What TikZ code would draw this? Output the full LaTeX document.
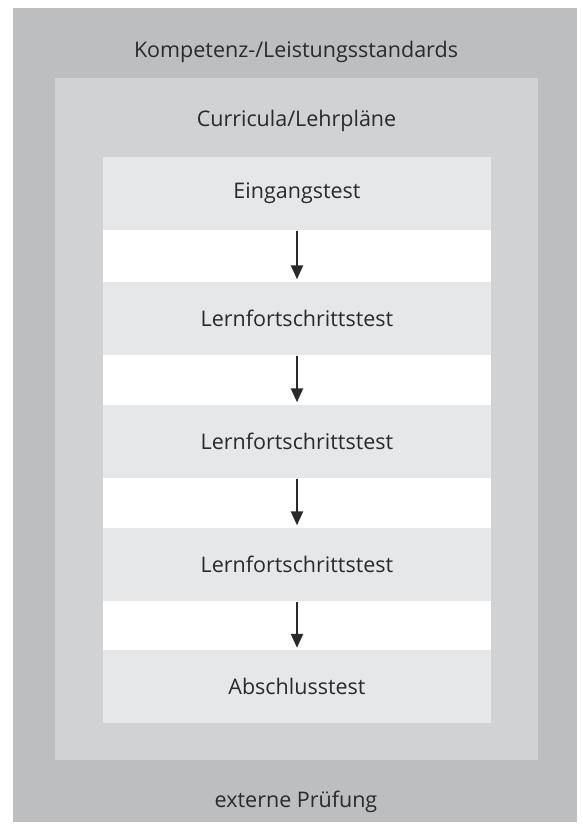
\documentclass[tikz,border=0pt]{standalone}
\usepackage{fontspec}
\setmainfont{Open Sans}
\usetikzlibrary{arrows.meta}

\definecolor{outergray}{HTML}{BDBEC0}
\definecolor{midgray}{HTML}{D1D2D4}
\definecolor{bandgray}{HTML}{E6E7E8}
\definecolor{textgray}{HTML}{2A2A2A}

\tikzset{
  label/.style={text=textgray, font=\fontsize{21.5}{24}\selectfont, inner sep=0pt},
  band/.style={label, fill=bandgray, minimum width=388pt, minimum height=73pt},
  arr/.style={draw=textgray, line width=2.4pt, -{Triangle[width=12pt,length=14pt]}, shorten <=1pt, shorten >=2pt}
}

\begin{document}
\begin{tikzpicture}[x=1pt,y=-1pt]

\useasboundingbox (0,0) rectangle (581,827);
\fill[white] (0,0) rectangle (581,827);

% frames
\fill[outergray] (13,8) rectangle (577,822);
\fill[midgray] (55,78) rectangle (538,760);
\fill[white] (103,157) rectangle (491,723);

\node[label] (std) at (296,52) {Kompetenz-/Leistungsstandards};
\node[label] (lp) at (296.5,121) {Curricula/Lehrpläne};
\node[label] (ext) at (296,802) {externe Prüfung};

% tests
\node[band] (t1) at (297,193.5) {Eingangstest};
\node[band] (t2) at (297,318) {Lernfortschrittstest};
\node[band] (t3) at (297,441) {Lernfortschrittstest};
\node[band] (t4) at (297,564) {Lernfortschrittstest};
\node[band] (t5) at (297,686.5) {Abschlusstest};

\draw[arr] (t1.south) -- (t2.north);
\draw[arr] (t2.south) -- (t3.north);
\draw[arr] (t3.south) -- (t4.north);
\draw[arr] (t4.south) -- (t5.north);

\end{tikzpicture}
\end{document}
